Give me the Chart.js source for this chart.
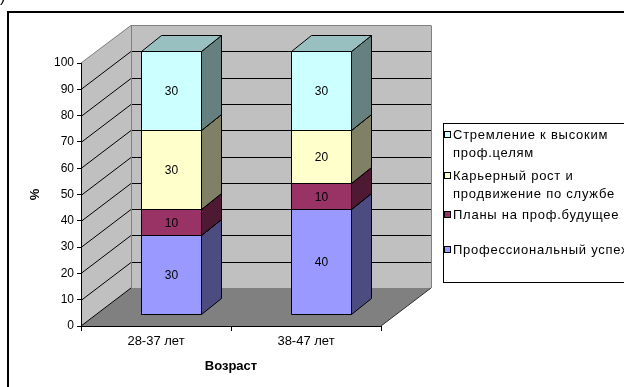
<!DOCTYPE html>
<html>
<head>
<meta charset="utf-8">
<script src="https://cdn.jsdelivr.net/npm/chart.js@4/dist/chart.umd.min.js"></script>
<style>
  html, body { margin: 0; padding: 0; background: #fff; overflow: hidden; }
  #wrap { position: relative; width: 624px; height: 387px; }
</style>
</head>
<body>
<div id="wrap"><canvas id="c" width="624" height="387"></canvas></div>
<script>
// Age groups and the stacked shares (%) for each motive, bottom to top
const ageGroups = ['28-37 лет', '38-47 лет'];
const successValues = [30, 40];   // Профессиональный успех
const plansValues = [10, 10];     // Планы на проф.будущее
const careerValues = [30, 20];    // Карьерный рост и продвижение по службе
const goalsValues = [30, 30];     // Стремление к высоким проф.целям

const seriesNames = [
  'Профессиональный успех',
  'Планы на проф.будущее',
  'Карьерный рост и продвижение по службе',
  'Стремление к высоким проф.целям'
];
const legendLines = [
  ['Профессиональный успех'],
  ['Планы на проф.будущее'],
  ['Карьерный рост и', 'продвижение по службе'],
  ['Стремление к высоким', 'проф.целям']
];
const yTickValues = [0, 10, 20, 30, 40, 50, 60, 70, 80, 90, 100];
const axisTitleX = 'Возраст';
const axisTitleY = '%';

// face colours: front, right side, top
const frontColors = ['#9999ff', '#993366', '#ffffcc', '#ccffff'];
const sideColors  = ['#4c4c80', '#4d1933', '#808066', '#668080'];
const topColors   = ['#7373bf', '#73264d', '#bfbf99', '#99c0c0'];

const FONT = "'Liberation Sans', Arial, sans-serif";
Chart.defaults.font.family = FONT;
Chart.defaults.font.size = 12;
Chart.defaults.color = '#000';

// 3D geometry: full wall depth and the slab occupied by the columns
const WALL = { dx: 50, dy: -38 };
const BAR_OFF = { dx: 15, dy: -12 };
const BAR_DEPTH = { dx: 20, dy: -16 };

function poly(ctx, pts, fill, stroke) {
  ctx.beginPath();
  ctx.moveTo(pts[0][0], pts[0][1]);
  for (let i = 1; i < pts.length; i++) ctx.lineTo(pts[i][0], pts[i][1]);
  ctx.closePath();
  if (fill) { ctx.fillStyle = fill; ctx.fill(); }
  if (stroke) { ctx.strokeStyle = stroke; ctx.lineWidth = 1; ctx.stroke(); }
}

function line(ctx, x1, y1, x2, y2, color) {
  ctx.beginPath();
  ctx.moveTo(x1, y1);
  ctx.lineTo(x2, y2);
  ctx.strokeStyle = color;
  ctx.lineWidth = 1;
  ctx.stroke();
}

// Frame, walls, floor and wall gridlines
const wallsPlugin = {
  id: 'walls',
  beforeDraw(chart) {
    const { ctx, chartArea: a, scales: { y } } = chart;
    ctx.save();
    ctx.fillStyle = '#fff';
    ctx.fillRect(0, 0, chart.width, chart.height);

    // outer frame of the chart object
    ctx.strokeStyle = '#000';
    ctx.lineWidth = 2;
    ctx.beginPath();
    ctx.moveTo(8, 400);
    ctx.lineTo(8, 12);
    ctx.lineTo(640, 12);
    ctx.stroke();

    // tail of the caption bracket above the frame
    ctx.fillStyle = '#000';
    ctx.font = '16px ' + FONT;
    ctx.textBaseline = 'alphabetic';
    ctx.textAlign = 'left';
    ctx.fillText(')', 0, 2);

    const L = a.left, R = a.right;
    const T = y.getPixelForValue(100), B = y.getPixelForValue(0);
    const dx = WALL.dx, dy = WALL.dy;

    // back wall
    poly(ctx, [[L + dx, T + dy], [R + dx, T + dy], [R + dx, B + dy], [L + dx, B + dy]], '#c0c0c0', null);
    // side wall
    poly(ctx, [[L, T], [L + dx, T + dy], [L + dx, B + dy], [L, B]], '#c0c0c0', null);
    // floor
    poly(ctx, [[L, B], [R, B], [R + dx, B + dy], [L + dx, B + dy]], '#808080', null);

    // gridlines on both walls
    yTickValues.forEach(v => {
      if (v === 0 || v === 100) return;
      const py = Math.round(y.getPixelForValue(v)) + 0.5;
      line(ctx, L, py, L + dx, py + dy, '#000');
      line(ctx, L + dx, py + dy, R + dx, py + dy, '#000');
    });
    // floor / side wall seam
    line(ctx, L, B, L + dx, B + dy, '#000');

    // wall edges
    const t = Math.round(T + dy) + 0.5;
    line(ctx, L, T, L + dx, t, '#808080');
    line(ctx, L + dx, t, R + dx, t, '#808080');
    line(ctx, Math.round(L + dx) + 0.5, t, Math.round(L + dx) + 0.5, B + dy, '#808080');
    line(ctx, Math.round(R + dx) + 0.5, t, Math.round(R + dx) + 0.5, B + dy, '#808080');
    line(ctx, R, B, R + dx, B + dy, '#303030');
    ctx.restore();
  }
};

// Columns drawn as prisms from the bar elements laid out by the chart
const prismPlugin = {
  id: 'prisms',
  beforeDatasetsDraw(chart) {
    const ctx = chart.ctx;
    ctx.save();
    chart.data.datasets.forEach((ds, i) => {
      const meta = chart.getDatasetMeta(i);
      meta.data.forEach((bar, j) => {
        const p = bar.getProps(['x', 'y', 'base', 'width'], true);
        const x1 = Math.round(p.x - p.width / 2 + BAR_OFF.dx) + 0.5;
        const x2 = Math.round(p.x + p.width / 2 + BAR_OFF.dx) + 0.5;
        const yt = Math.round(p.y + BAR_OFF.dy) + 0.5;
        const yb = Math.round(p.base + BAR_OFF.dy) + 0.5;
        const ddx = BAR_DEPTH.dx, ddy = BAR_DEPTH.dy;
        poly(ctx, [[x2, yb], [x2, yt], [x2 + ddx, yt + ddy], [x2 + ddx, yb + ddy]], sideColors[i], '#000');
        poly(ctx, [[x1, yt], [x2, yt], [x2 + ddx, yt + ddy], [x1 + ddx, yt + ddy]], topColors[i], '#000');
        poly(ctx, [[x1, yt], [x2, yt], [x2, yb], [x1, yb]], frontColors[i], '#000');
        ctx.fillStyle = '#000';
        ctx.font = '12px ' + FONT;
        ctx.textAlign = 'center';
        ctx.textBaseline = 'middle';
        ctx.fillText(String(ds.data[j]), (x1 + x2) / 2, (yt + yb) / 2 + 1);
      });
    });
    ctx.restore();
    return false;
  }
};

// Legend box on the right, top entry is the top of the stack
const legendPlugin = {
  id: 'legendBox',
  afterDraw(chart) {
    const ctx = chart.ctx;
    ctx.save();
    ctx.fillStyle = '#fff';
    ctx.fillRect(443, 123, 200, 159);
    ctx.strokeStyle = '#000';
    ctx.lineWidth = 1;
    ctx.strokeRect(443.5, 123.5, 200, 159);
    const rows = [
      { s: 3, y: 135 },
      { s: 2, y: 176 },
      { s: 1, y: 215 },
      { s: 0, y: 250 }
    ];
    ctx.font = '13px ' + FONT;
    ctx.letterSpacing = '0.75px';
    ctx.textAlign = 'left';
    ctx.textBaseline = 'middle';
    rows.forEach(r => {
      ctx.fillStyle = frontColors[r.s];
      ctx.fillRect(445, r.y - 3, 5, 5);
      ctx.strokeStyle = '#000';
      ctx.strokeRect(444.5, r.y - 3.5, 6, 6);
      ctx.fillStyle = '#000';
      legendLines[r.s].forEach((txt, k) => {
        ctx.fillText(txt, 453, r.y + k * 18);
      });
    });
    ctx.letterSpacing = '0px';
    ctx.restore();
  }
};

const chart = new Chart(document.getElementById('c'), {
  type: 'bar',
  data: {
    labels: ageGroups,
    datasets: [
      { label: seriesNames[0], data: successValues, backgroundColor: frontColors[0] },
      { label: seriesNames[1], data: plansValues, backgroundColor: frontColors[1] },
      { label: seriesNames[2], data: careerValues, backgroundColor: frontColors[2] },
      { label: seriesNames[3], data: goalsValues, backgroundColor: frontColors[3] }
    ]
  },
  options: {
    responsive: false,
    animation: false,
    events: [],
    layout: { padding: { left: 0, top: 63, right: 243, bottom: 0 } },
    datasets: { bar: { categoryPercentage: 1, barPercentage: 0.4 } },
    plugins: { legend: { display: false }, tooltip: { enabled: false } },
    scales: {
      x: {
        stacked: true,
        offset: true,
        grid: { offset: true, drawOnChartArea: false, drawTicks: true, tickLength: 5, color: '#000' },
        border: { display: true, color: '#000' },
        ticks: { padding: 3, font: { size: 13 }, color: '#000' },
        title: { display: true, text: axisTitleX, color: '#000', font: { size: 13, weight: 'bold' }, padding: { top: 0, bottom: 13 } },
        afterFit(scale) { scale.height = 61; }
      },
      y: {
        stacked: true,
        min: 0,
        max: 100,
        afterBuildTicks(scale) { scale.ticks = yTickValues.map(v => ({ value: v })); },
        grid: { drawOnChartArea: false, drawTicks: true, tickLength: 4, color: '#000' },
        border: { display: true, color: '#000' },
        ticks: { padding: 3, font: { size: 12 }, color: '#000' },
        title: { display: true, text: axisTitleY, color: '#000', font: { size: 13, weight: 'bold' }, padding: { top: 28, bottom: 0 } },
        afterFit(scale) { scale.width = 81; }
      }
    }
  },
  plugins: [wallsPlugin, prismPlugin, legendPlugin]
});
</script>
</body>
</html>
